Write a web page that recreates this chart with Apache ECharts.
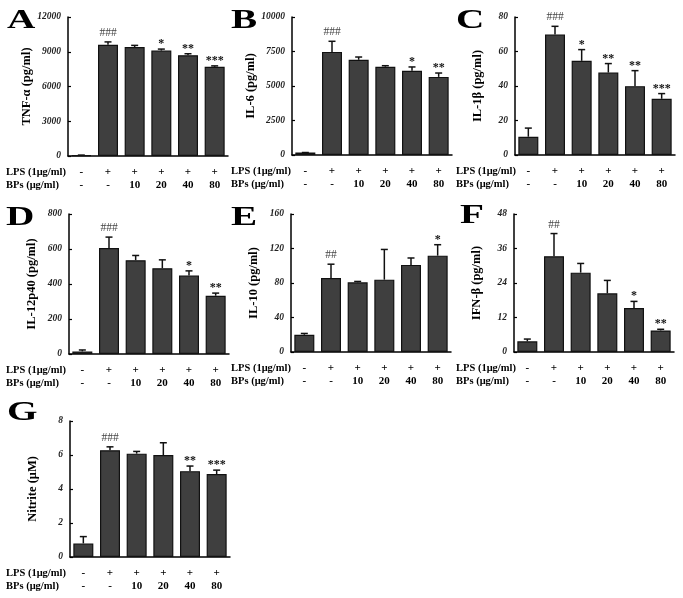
<!DOCTYPE html>
<html><head><meta charset="utf-8">
<script src="https://cdn.jsdelivr.net/npm/echarts@6/dist/echarts.min.js"></script>
<style>html,body{margin:0;padding:0;background:#fff}#c{width:683px;height:598px}</style>
</head><body><div id="c"></div>
<script>
// Row labels under each bar
const lpsRow = ['-', '+', '+', '+', '+', '+'];
const bpsRow = ['-', '-', '10', '20', '40', '80'];
const rowLabels = ['LPS (1μg/ml)', 'BPs (μg/ml)'];

// A: TNF-α
const tnfMean = [60, 9600, 9400, 9100, 8700, 7700];
const tnfErr  = [20, 250, 150, 130, 130, 80];
const tnfSig  = ['', '###', '', '*', '**', '***'];
// B: IL-6
const il6Mean = [180, 7470, 6900, 6400, 6100, 5660];
const il6Err  = [0, 770, 200, 70, 280, 280];
const il6Sig  = ['', '###', '', '', '*', '**'];
// C: IL-1β
const il1bMean = [10.6, 69.8, 54.6, 47.8, 39.9, 32.6];
const il1bErr  = [5, 4.8, 6.5, 5.2, 9.0, 3.0];
const il1bSig  = ['', '###', '*', '**', '**', '***'];
// D: IL-12p40
const il12Mean = [15, 605, 536, 490, 448, 333];
const il12Err  = [8, 63, 27, 48, 27, 15];
const il12Sig  = ['', '###', '', '', '*', '**'];
// E: IL-10
const il10Mean = [20, 85.8, 80.8, 83.9, 101, 111.7];
const il10Err  = [1.5, 16, 1, 35, 8, 12.7];
const il10Sig  = ['', '##', '', '', '', '*'];
// F: IFN-β
const ifnMean = [3.7, 33.3, 27.6, 20.4, 15.3, 7.5];
const ifnErr  = [0.8, 7.9, 3.2, 4.5, 2.3, 0.4];
const ifnSig  = ['', '##', '', '', '*', '**'];
// G: Nitrite
const nitMean = [0.8, 6.28, 6.08, 6.0, 5.05, 4.88];
const nitErr  = [0.4, 0.2, 0.13, 0.72, 0.3, 0.23];
const nitSig  = ['', '###', '', '', '**', '***'];

// Y axis ticks
const yMaxes = [12000, 10000, 80, 800, 160, 48, 8];
const yIntervals = [3000, 2500, 20, 200, 40, 12, 2];
const yNames = ['TNF-α (pg/ml)', 'IL-6 (pg/ml)', 'IL-1β (pg/ml)', 'IL-12p40 (pg/ml)', 'IL-10 (pg/ml)', 'IFN-β (pg/ml)', 'Nitrite (μM)'];
const letters = ['A', 'B', 'C', 'D', 'E', 'F', 'G'];

const means = [tnfMean, il6Mean, il1bMean, il12Mean, il10Mean, ifnMean, nitMean];
const errs  = [tnfErr, il6Err, il1bErr, il12Err, il10Err, ifnErr, nitErr];
const sigs  = [tnfSig, il6Sig, il1bSig, il12Sig, il10Sig, ifnSig, nitSig];

// layout (pixels)
const layout = [
  {left: 68,  top: 17,  height: 139, px: 225 * 0},
  {left: 292, top: 17,  height: 138, px: 225 * 1},
  {left: 515, top: 17,  height: 138, px: 225 * 2},
  {left: 69,  top: 214, height: 140, px: 0},
  {left: 291, top: 214, height: 138, px: 225},
  {left: 514, top: 214, height: 138, px: 450},
  {left: 70,  top: 421, height: 136, px: 0}
];
const letterPos = [[7, 7], [231, 7], [456, 7], [6, 204], [231, 204], [460, 202], [7, 399]];

const SERIF = '"Liberation Serif", "Times New Roman", serif';
const xCats = lpsRow.map((l, i) => l + '\n' + bpsRow[i]);

const grid = [], xAxis = [], yAxis = [], series = [], graphic = [];
layout.forEach((L, p) => {
  grid.push({left: L.left, top: L.top, width: 160, height: L.height});
  xAxis.push({
    type: 'category', gridIndex: p, data: xCats,
    axisLine: {lineStyle: {color: '#000', width: 1.5}},
    axisTick: {inside: true, length: 3, lineStyle: {color: '#000', width: 1.2}},
    axisLabel: {margin: 10, lineHeight: 12.5, fontFamily: SERIF, fontWeight: 'bold', fontSize: 11, color: '#000'}
  });
  yAxis.push({
    type: 'value', gridIndex: p, min: 0, max: yMaxes[p], interval: yIntervals[p],
    name: yNames[p], nameLocation: 'middle', nameGap: 31,
    nameTextStyle: {fontFamily: SERIF, fontWeight: 'bold', fontSize: 12.5, color: '#000'},
    splitLine: {show: false},
    axisLine: {show: true, lineStyle: {color: '#000', width: 1.5}},
    axisTick: {show: true, inside: true, length: 3, lineStyle: {color: '#000', width: 1.2}},
    axisLabel: {margin: 7, fontFamily: SERIF, fontStyle: 'italic', fontWeight: 'bold', fontSize: 9.5, color: '#222',
      formatter: v => String(v)}
  });
  series.push({
    type: 'bar', xAxisIndex: p, yAxisIndex: p, data: means[p], barWidth: 20,
    itemStyle: {color: '#3f3f3f', borderColor: '#111', borderWidth: 1.2},
    silent: true, animation: false
  });
  const sigArr = sigs[p];
  series.push({
    type: 'custom', xAxisIndex: p, yAxisIndex: p, animation: false, silent: true,
    data: means[p].map((m, i) => [i, m, errs[p][i]]),
    renderItem: function (params, api) {
      const i = api.value(0), m = api.value(1), e = api.value(2);
      const b = api.coord([i, m]);
      const t = api.coord([i, m + e]);
      const children = [
        {type: 'line', shape: {x1: t[0], y1: b[1], x2: t[0], y2: t[1]}, style: {stroke: '#111', lineWidth: 1.5}},
        {type: 'line', shape: {x1: t[0] - 3.5, y1: t[1], x2: t[0] + 3.5, y2: t[1]}, style: {stroke: '#111', lineWidth: 1.5}}
      ];
      const s = sigArr[params.dataIndex];
      if (s) {
        const isHash = s.charAt(0) === '#';
        children.push({type: 'text', style: {
          text: s, x: t[0], y: isHash ? t[1] - 3 : t[1] + 1, align: 'center', verticalAlign: 'bottom',
          font: (isHash ? 'normal 11.5px ' : 'bold 12px ') + SERIF, fill: isHash ? '#444' : '#111'
        }});
      }
      return {type: 'group', children: children};
    }
  });
  // row labels
  const by = L.top + L.height;
  graphic.push({type: 'text', x: L.px + 6, y: by + 16.5, style: {text: rowLabels[0], font: 'bold 10.5px ' + SERIF, fill: '#000', verticalAlign: 'middle'}});
  graphic.push({type: 'text', x: L.px + 6, y: by + 29, style: {text: rowLabels[1], font: 'bold 10.5px ' + SERIF, fill: '#000', verticalAlign: 'middle'}});
  graphic.push({type: 'text', x: letterPos[p][0], y: letterPos[p][1], scaleX: 1.4,
    style: {text: letters[p], font: 'bold 28px ' + SERIF, fill: '#000', verticalAlign: 'top'}});
});

const chart = echarts.init(document.getElementById('c'), null, {renderer: 'canvas'});
chart.setOption({animation: false, backgroundColor: '#fff', grid, xAxis, yAxis, series, graphic});
</script></body></html>
